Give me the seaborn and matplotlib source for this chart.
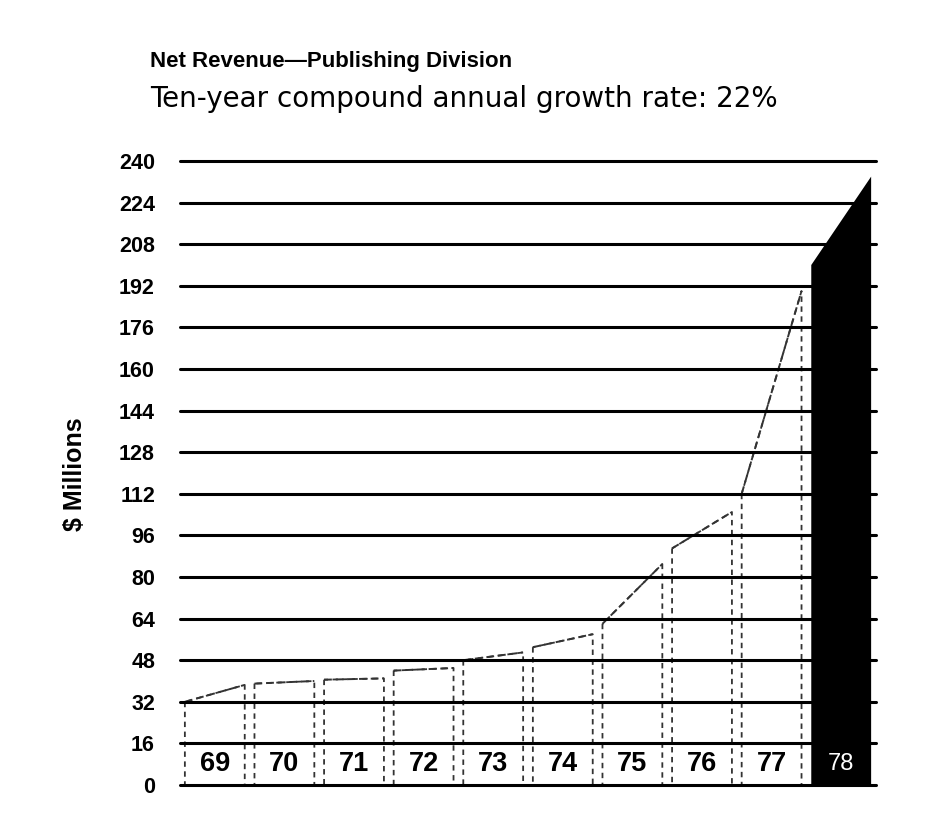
import numpy as np
import pandas as pd
import matplotlib
matplotlib.use("Agg")
import matplotlib.pyplot as plt
import seaborn as sns

# ---- data ----
years = ["69", "70", "71", "72", "73", "74", "75", "76", "77", "78"]
start_vals = [32, 39, 40.5, 44, 48, 53, 62, 91, 112, 200]
end_vals = [38.5, 40, 41, 45, 51, 58, 85, 105, 190, 234]
y_ticks = list(range(0, 241, 16))
title = "Net Revenue\u2014Publishing Division"
subtitle = "Ten-year compound annual growth rate: 22%"
y_label = "$ Millions"

sns.set_theme(style="white")
plt.rcParams["font.family"] = ["Liberation Sans", "DejaVu Sans"]

fig = plt.figure(figsize=(9.42, 8.36), dpi=100)
ax = fig.add_axes([180 / 942, 1 - 785 / 836, (876 - 180) / 942, (785 - 161) / 836])

w = 0.86
n = len(years)

# long-format table of the bar tops (left/right corner of each bar)
rows = []
for i, (yr, s, e) in enumerate(zip(years, start_vals, end_vals)):
    rows.append({"year": yr, "x": i - w / 2, "v": s})
    rows.append({"year": yr, "x": i + w / 2, "v": e})
tops = pd.DataFrame(rows)

# bars with slanted tops
for i, yr in enumerate(years):
    seg = tops[tops["year"] == yr]
    last = i == n - 1
    ax.fill_between(seg["x"], 0, seg["v"],
                    facecolor="black" if last else "white",
                    edgecolor="black" if last else "#333333",
                    linewidth=0 if last else 1.3,
                    linestyle=(0, (3, 2.5)),
                    zorder=4 if last else 2)

# dashed top edges of the white bars
sns.lineplot(data=tops[tops["year"] != years[-1]], x="x", y="v", units="year",
             estimator=None, color="#333333", linewidth=1.4,
             linestyle=(0, (4, 2)), ax=ax, zorder=2.5, legend=False)

# heavy horizontal rules over the bars
for t in y_ticks:
    ax.axhline(t, color="black", linewidth=2.2, zorder=3, clip_on=False)

ax.set_xlim(-0.5, n - 0.5)
ax.set_ylim(0, 240)
ax.set_yticks(y_ticks)
ax.set_yticklabels([str(t) for t in y_ticks], fontsize=15.5, fontweight="bold",
                   color="black")
ax.set_xticks([])
ax.tick_params(axis="y", length=0, pad=18)
for sp in ax.spines.values():
    sp.set_visible(False)
ax.set_xlabel("")
ax.set_ylabel("")
ax.patch.set_alpha(0)

# year labels in the bottom row
for i, yr in enumerate(years):
    last = i == n - 1
    ax.text(i, 8, yr, ha="center", va="center",
            fontsize=17 if last else 19.5,
            fontweight="normal" if last else "bold",
            color="white" if last else "black", zorder=5)

fig.text(75 / 942, 1 - 474 / 836, y_label, rotation=90, fontsize=18,
         fontweight="bold", ha="center", va="center", color="black")
fig.text(150 / 942, 1 - 62 / 836, title, fontsize=16, fontweight="bold",
         ha="left", va="center", color="black")
fig.text(150 / 942, 1 - 99 / 836, subtitle, fontsize=20,
         family=["DejaVu Sans"], ha="left", va="center", color="black")

fig.savefig("out.png", dpi=100, facecolor="white")
